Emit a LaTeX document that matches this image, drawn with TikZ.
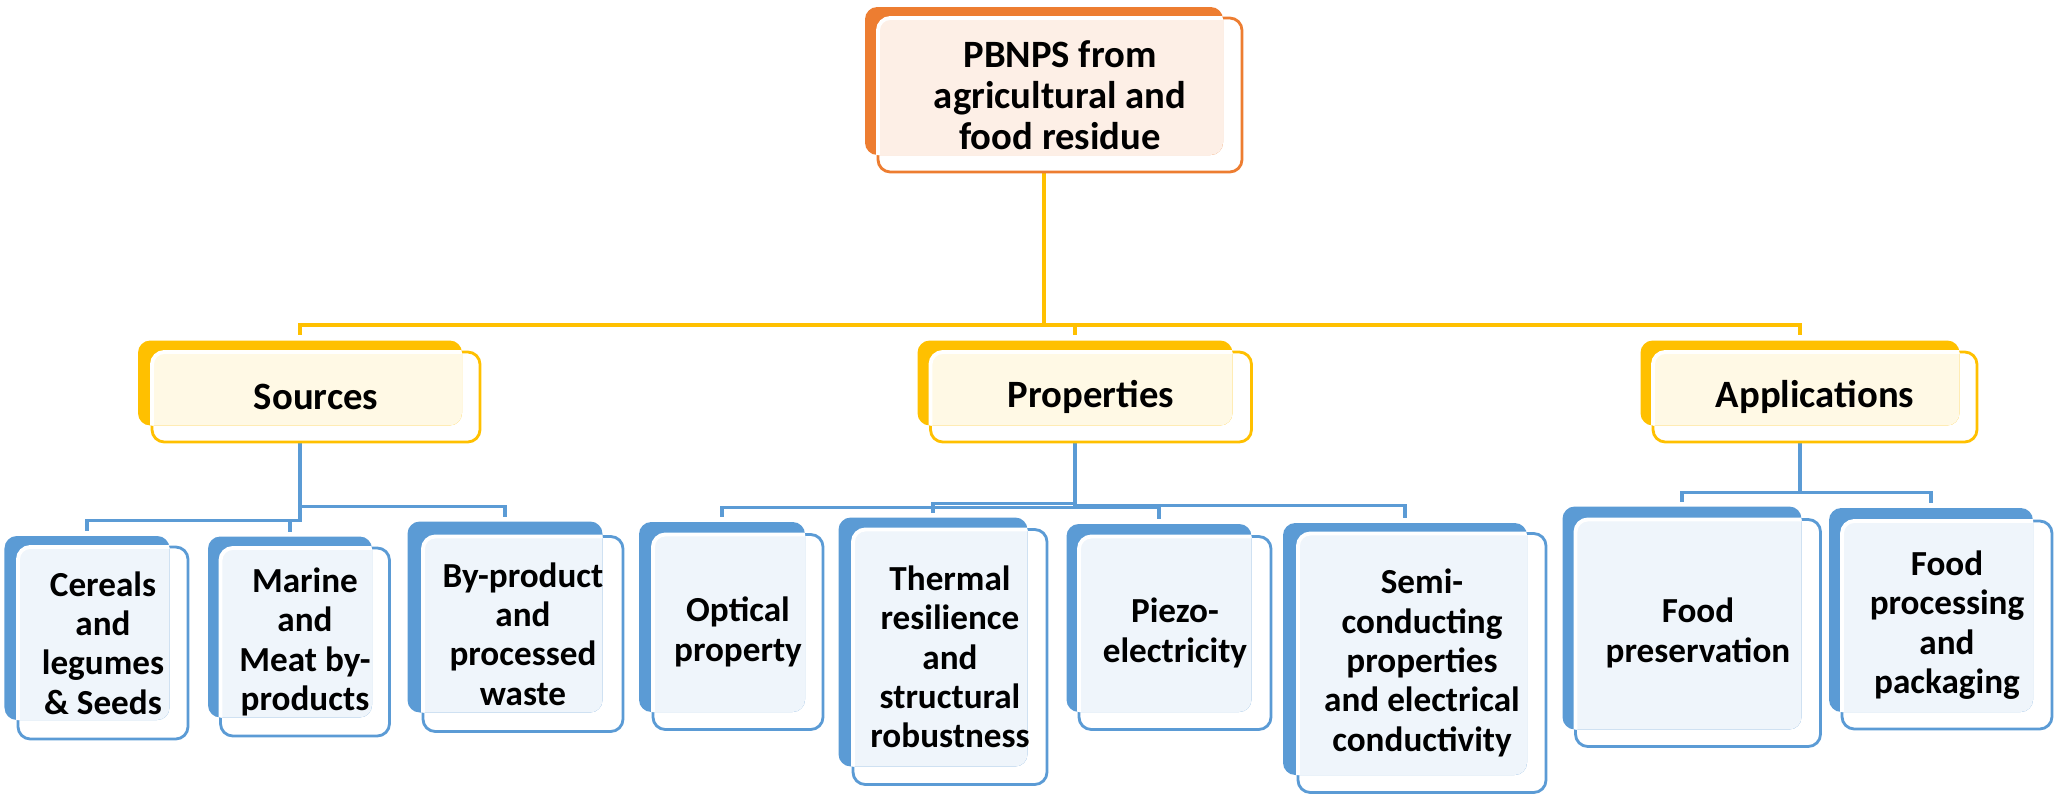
\documentclass[tikz,border=0pt]{standalone}
\usepackage{fontspec}
\setmainfont{Carlito}
\usepackage{xcolor}
\usepackage{tikz}
\usetikzlibrary{backgrounds}

\definecolor{orng}{HTML}{ED7D31}
\definecolor{gold}{HTML}{FFC000}
\definecolor{sky}{HTML}{5B9BD5}

\begin{document}
\begin{tikzpicture}[
    x=0.01cm, y=-0.01cm,
    font=\bfseries\fontsize{10}{11.2}\selectfont,
    sz/.style 2 args={minimum width=#1*0.01cm, minimum height=#2*0.01cm},
    frontbox/.style={draw=#1, fill=white, line width=0.8pt, rounded corners=3.5pt,
                     inner sep=0pt, outer sep=0pt},
    backbox/.style n args={3}{fill=#1, rounded corners=3.5pt, inner sep=0pt, outer sep=0pt,
      path picture={\draw[white, line width=1.1pt, fill=#1!#2, rounded corners=3.5pt]
        (#3.north west) rectangle (#3.south east);}},
    txt/.style={align=center, inner sep=0pt},
    big/.style={font=\bfseries\fontsize{11}{11.7}\selectfont},
    goldline/.style={draw=gold, line width=1pt, shorten >=1.7pt},
    skyline/.style={draw=sky, line width=0.9pt, shorten >=1.4pt}
  ]
    \useasboundingbox (0,0) rectangle (2056,797);

    % root
    \node[frontbox=orng, sz={364}{154}] (top) at (1060,95) {};
    \node[backbox={orng}{12}{top}, sz={358}{148}] (topB) at (1044,81) {};
    \node[txt, big] (topT) at (top) {PBNPS from\\agricultural and\\food residue};

    % second level
    \node[frontbox=gold, sz={328}{90}] (src) at (316,397) {};
    \node[backbox={gold}{10}{src}, sz={324}{85}] (srcB) at (300,383) {};
    \node[txt, big] (srcT) at (src) {Sources};

    \node[frontbox=gold, sz={321}{90}] (prp) at (1091,397) {};
    \node[backbox={gold}{10}{prp}, sz={315}{85}] (prpB) at (1075,383) {};
    \node[txt, big] (prpT) at (prp) {Properties};

    \node[frontbox=gold, sz={324}{90}] (app) at (1815,397) {};
    \node[backbox={gold}{10}{app}, sz={319}{85}] (appB) at (1800,383) {};
    \node[txt, big] (appT) at (app) {Applications};

    % sources
    \node[frontbox=sky, sz={170}{192}] (cer) at (103,643) {};
    \node[backbox={sky}{10}{cer}, sz={165}{184}] (cerB) at (87,628) {};
    \node[txt] (cerT) at (cer) {Cereals\\and\\legumes\\\& Seeds};

    \node[frontbox=sky, sz={169}{188}] (mar) at (305,642) {};
    \node[backbox={sky}{10}{mar}, sz={164}{181}] (marB) at (290,627) {};
    \node[txt] (marT) at (mar) {Marine\\and\\Meat by-\\products};

    \node[frontbox=sky, sz={200}{195}] (byp) at (523,634) {};
    \node[backbox={sky}{10}{byp}, sz={195}{191}] (bypB) at (505,617) {};
    \node[txt] (bypT) at (byp) {By-product\\and\\processed\\waste};

    % properties
    \node[frontbox=sky, sz={170}{195}] (opt) at (738,632) {};
    \node[backbox={sky}{10}{opt}, sz={166}{190}] (optB) at (722,617) {};
    \node[txt] (optT) at (opt) {Optical\\property};

    \node[frontbox=sky, sz={194}{255}] (thr) at (950,657) {};
    \node[backbox={sky}{10}{thr}, sz={189}{249}] (thrB) at (933,642) {};
    \node[txt] (thrT) at (thr) {Thermal\\resilience\\and\\structural\\robustness};

    \node[frontbox=sky, sz={192}{193}] (pie) at (1175,633) {};
    \node[backbox={sky}{10}{pie}, sz={185}{188}] (pieB) at (1159,618) {};
    \node[txt] (pieT) at (pie) {Piezo-\\electricity};

    \node[frontbox=sky, sz={248}{259}] (sem) at (1422,663) {};
    \node[backbox={sky}{10}{sem}, sz={244}{252}] (semB) at (1405,649) {};
    \node[txt] (semT) at (sem) {Semi-\\conducting\\properties\\and electrical\\conductivity};

    % applications
    \node[frontbox=sky, sz={245}{227}] (fpr) at (1698,633) {};
    \node[backbox={sky}{10}{fpr}, sz={239}{223}] (fprB) at (1682,618) {};
    \node[txt] (fprT) at (fpr) {Food\\preservation};

    \node[frontbox=sky, sz={210}{208}] (fpk) at (1947,625) {};
    \node[backbox={sky}{10}{fpk}, sz={204}{204}] (fpkB) at (1931,610) {};
    \node[txt] (fpkT) at (fpk) {Food\\processing\\and\\packaging};

    \begin{scope}[on background layer]
      \draw[goldline] (topB.south) -- ++(0,170) -| (srcB.north);
      \draw[goldline] (topB.south) -- ++(0,170) -| (prpB.north);
      \draw[goldline] (topB.south) -- ++(0,170) -| (appB.north);

      \draw[skyline] (srcB.south) -- ++(0,95) -| (cerB.north);
      \draw[skyline] (srcB.south) -- ++(0,95) -| (marB.north);
      \draw[skyline] (srcB.south) -- ++(0,81) -| (bypB.north);

      \draw[skyline] (prpB.south) -- ++(0,82) -| (optB.north);
      \draw[skyline] (prpB.south) -- ++(0,78) -| (thrB.north);
      \draw[skyline] (prpB.south) -- ++(0,82) -| (pieB.north);
      \draw[skyline] (prpB.south) -- ++(0,80) -| (semB.north);

      \draw[skyline] (appB.south) -- ++(0,67) -| (fprB.north);
      \draw[skyline] (appB.south) -- ++(0,67) -| (fpkB.north);
    \end{scope}
  \end{tikzpicture}
\end{document}
